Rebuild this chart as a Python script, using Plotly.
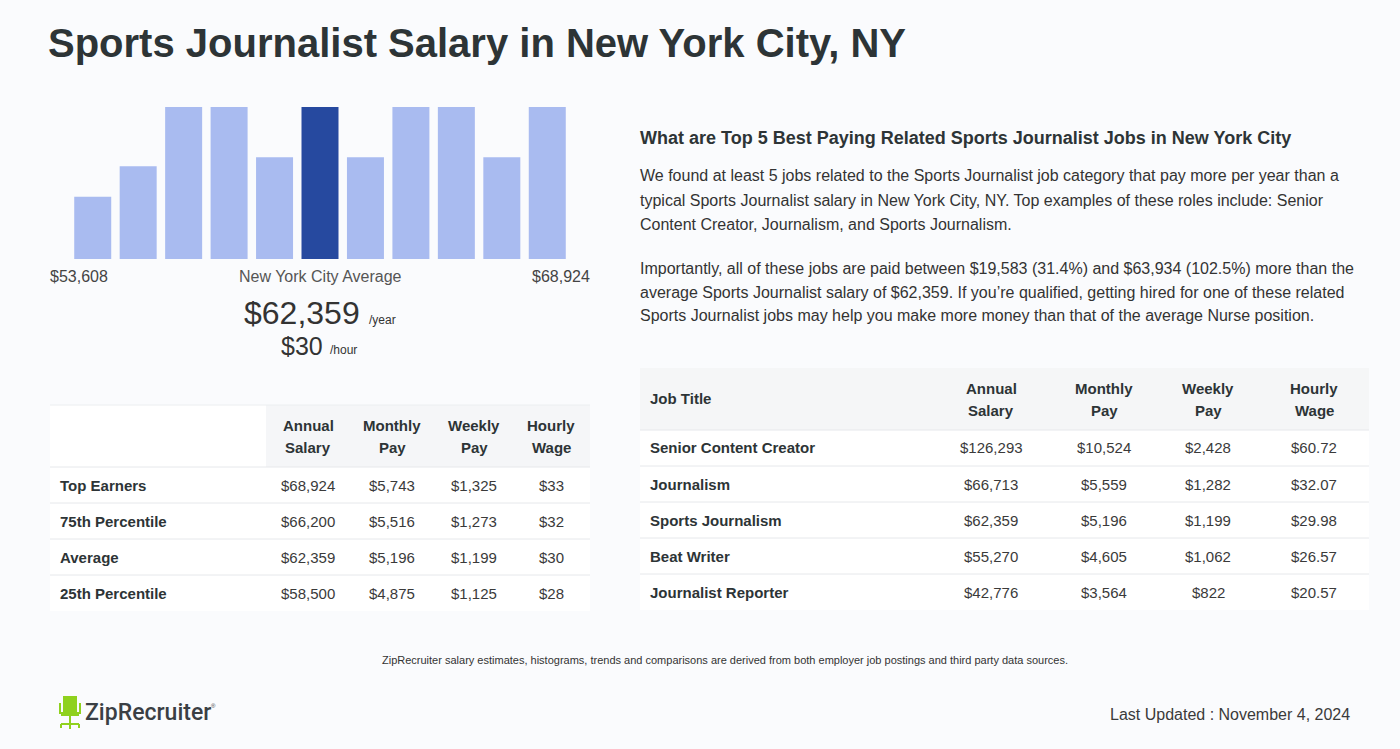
import plotly.graph_objects as go

W, H = 1400, 749

# ---------------- data ----------------
title = "Sports Journalist Salary in New York City, NY"
hist_bins = list(range(1, 12))
hist_values = [41, 61, 100, 100, 67, 100, 67, 100, 100, 67, 100]
highlight_bin = 6
range_low = "$53,608"
range_high = "$68,924"
avg_year = "$62,359"
avg_hour = "$30"

left_cols = ["Annual<br>Salary", "Monthly<br>Pay", "Weekly<br>Pay", "Hourly<br>Wage"]
left_rows = ["Top Earners", "75th Percentile", "Average", "25th Percentile"]
left_annual = ["$68,924", "$66,200", "$62,359", "$58,500"]
left_monthly = ["$5,743", "$5,516", "$5,196", "$4,875"]
left_weekly = ["$1,325", "$1,273", "$1,199", "$1,125"]
left_hourly = ["$33", "$32", "$30", "$28"]

right_heading = "What are Top 5 Best Paying Related Sports Journalist Jobs in New York City"
para1 = ["We found at least 5 jobs related to the Sports Journalist job category that pay more per year than a",
         "typical Sports Journalist salary in New York City, NY. Top examples of these roles include: Senior",
         "Content Creator, Journalism, and Sports Journalism."]
para2 = ["Importantly, all of these jobs are paid between $19,583 (31.4%) and $63,934 (102.5%) more than the",
         "average Sports Journalist salary of $62,359. If you\u2019re qualified, getting hired for one of these related",
         "Sports Journalist jobs may help you make more money than that of the average Nurse position."]

jobs = ["Senior Content Creator", "Journalism", "Sports Journalism", "Beat Writer", "Journalist Reporter"]
job_annual = ["$126,293", "$66,713", "$62,359", "$55,270", "$42,776"]
job_monthly = ["$10,524", "$5,559", "$5,196", "$4,605", "$3,564"]
job_weekly = ["$2,428", "$1,282", "$1,199", "$1,062", "$822"]
job_hourly = ["$60.72", "$32.07", "$29.98", "$26.57", "$20.57"]

footnote = "ZipRecruiter salary estimates, histograms, trends and comparisons are derived from both employer job postings and third party data sources."
updated = "Last Updated : November 4, 2024"

# ---------------- helpers ----------------
FONT = "Liberation Sans, Arial, sans-serif"
DARK = "#2d3436"
TXT = "#333333"


def px(x):
    return x / W


def py(y):
    return 1 - y / H


annotations = []
shapes = []


def text(x, y, s, size=15, color=TXT, bold=False, xanchor="left", yanchor="middle", family=FONT, weight=None):
    if bold:
        s = "<b>" + s + "</b>"
    # compensate the annotation box padding
    if xanchor == "left":
        x -= 2
    elif xanchor == "right":
        x += 2
    f = dict(size=size, color=color, family=family)
    if weight is not None:
        f["weight"] = weight
    annotations.append(dict(x=px(x), y=py(y), xref="paper", yref="paper", text=s,
                            showarrow=False, xanchor=xanchor, yanchor=yanchor,
                            font=f,
                            align="center" if xanchor == "center" else xanchor))


def rect(x0, y0, x1, y1, fill, line=None):
    shapes.append(dict(type="rect", xref="paper", yref="paper", x0=px(x0), x1=px(x1),
                       y0=py(y1), y1=py(y0), fillcolor=fill,
                       line=dict(width=0) if line is None else dict(color=line, width=1),
                       layer="below"))


def hline(x0, x1, y, color="#e6e8eb"):
    shapes.append(dict(type="line", xref="paper", yref="paper", x0=px(x0), x1=px(x1),
                       y0=py(y), y1=py(y), line=dict(color=color, width=1), layer="below"))


# ---------------- histogram ----------------
colors = ["#26499f" if b == highlight_bin else "#a9bbf0" for b in hist_bins]
fig = go.Figure(go.Bar(x=hist_bins, y=hist_values, marker=dict(color=colors, line=dict(width=0)),
                       hoverinfo="skip"))

# title
text(48, 43, title, size=40, color=DARK, bold=True)

# histogram labels
text(50, 276, range_low, size=16, color="#444444")
text(590, 276, range_high, size=16, color="#444444", xanchor="right")
text(320, 276, "New York City Average", size=16, color="#555555", xanchor="center")
text(360, 313, avg_year, size=32, color="#333333", xanchor="right")
text(369, 320, "/year", size=12, color="#333333")
text(323, 346, avg_hour, size=25, color="#333333", xanchor="right")
text(330, 350, "/hour", size=12, color="#333333")

# ---------------- left table ----------------
rect(50, 405, 590, 611, "#ffffff")
rect(266, 405, 590, 467, "#f5f6f8")
hline(50, 590, 405, "#eceef0")
left_col_x = [308, 392, 474, 551]
for cx, c in zip(left_col_x, left_cols):
    top, bot = c.split("<br>")
    text(cx, 425, top, size=15, color=DARK, bold=True, xanchor="center")
    text(cx, 447, bot, size=15, color=DARK, bold=True, xanchor="center")
left_row_y = [485, 521, 557, 593]
for i, (lab, y) in enumerate(zip(left_rows, left_row_y)):
    hline(50, 590, y - 18)
    text(60, y, lab, size=15, color=DARK, bold=True)
    for cx, col in zip(left_col_x, [left_annual, left_monthly, left_weekly, left_hourly]):
        text(cx, y, col[i], size=15, color="#3a3a3a", xanchor="center")

# ---------------- right text ----------------
text(640, 138, right_heading, size=18, color=DARK, bold=True)
for k, line in enumerate(para1):
    text(640, 176 + 24 * k, line, size=16, color=TXT)
for k, line in enumerate(para2):
    text(640, 268 + 24 * k, line, size=16, color=TXT)

# ---------------- right table ----------------
rect(640, 368, 1369, 610, "#ffffff")
rect(640, 368, 1369, 430, "#f5f6f7")
right_col_x = [991, 1104, 1208, 1314]
text(650, 399, "Job Title", size=15, color=DARK, bold=True)
for cx, c in zip(right_col_x, left_cols):
    top, bot = c.split("<br>")
    text(cx, 388, top, size=15, color=DARK, bold=True, xanchor="center")
    text(cx, 410, bot, size=15, color=DARK, bold=True, xanchor="center")
right_row_y = [448, 484, 520, 556, 592]
for i, (job, y) in enumerate(zip(jobs, right_row_y)):
    hline(640, 1369, y - 18)
    text(650, y, job, size=15, color=DARK, bold=True)
    for cx, col in zip(right_col_x, [job_annual, job_monthly, job_weekly, job_hourly]):
        text(cx, y, col[i], size=15, color="#3a3a3a", xanchor="center")

# ---------------- footer ----------------
text(725, 660, footnote, size=11, color="#333333", xanchor="center")
text(1350, 714, updated, size=16, color="#3a3a3a", xanchor="right")

# logo: chair icon
GREEN = "#8fd11e"
rect(63, 696, 77, 712, GREEN)          # backrest
rect(61, 712, 79, 716, GREEN)          # seat
rect(59, 703, 61, 714, GREEN)          # left arm
rect(79, 703, 81, 714, GREEN)          # right arm
rect(69, 716, 71, 726, GREEN)          # post
for (xa, ya, xb, yb) in [(61, 724, 79, 724), (61, 724, 61, 728), (79, 724, 79, 728), (70, 726, 70, 729)]:
    shapes.append(dict(type="line", xref="paper", yref="paper", x0=px(xa), x1=px(xb),
                       y0=py(ya), y1=py(yb), line=dict(color=GREEN, width=2)))
text(85, 712, "ZipRecruiter", size=23, color="#3a3f44", family="Roboto, Liberation Sans, Arial", weight=500)
text(211, 706, "\u00ae", size=6, color="#3a3f44")

fig.update_layout(
    width=W, height=H,
    margin=dict(l=0, r=0, t=0, b=0),
    paper_bgcolor="#fafbfd",
    plot_bgcolor="rgba(0,0,0,0)",
    showlegend=False,
    bargap=0.186,
    xaxis=dict(domain=[px(70), px(570)], range=[0.5, 11.5], visible=False, fixedrange=True),
    yaxis=dict(domain=[py(259), py(107)], range=[0, 100], visible=False, fixedrange=True),
    annotations=annotations,
    shapes=shapes,
    font=dict(family=FONT),
)

fig.write_html("out.html", config={"displayModeBar": False},
               post_script="document.body.style.margin='0';document.body.style.background='#fafbfd';")
